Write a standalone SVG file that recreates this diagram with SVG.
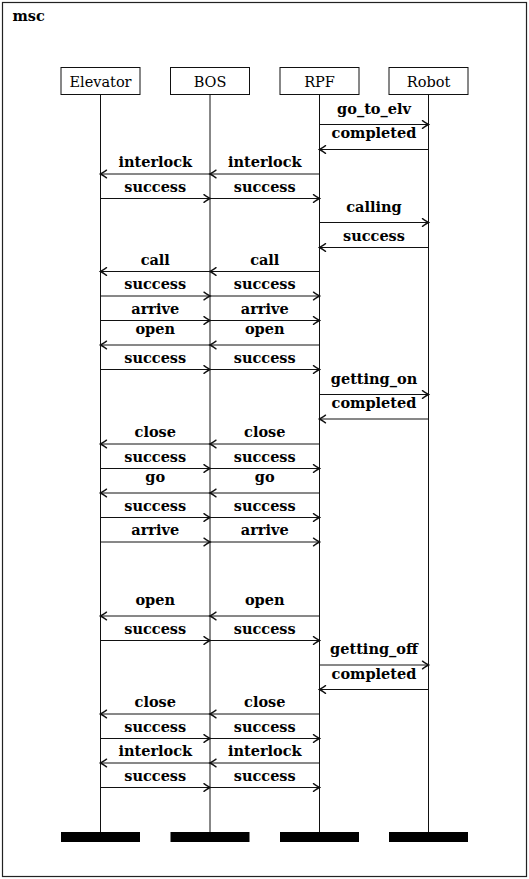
<svg xmlns="http://www.w3.org/2000/svg" width="529" height="879" viewBox="0 0 529 879">
<style>
.frame{fill:#fff;stroke:#222;stroke-width:1.2}
.head{fill:#fff;stroke:#111;stroke-width:1}
.hl{font-family:"DejaVu Serif",serif;font-size:14.5px;fill:#000;text-anchor:middle}
.life{stroke:#111;stroke-width:1}
.bar{fill:#000}
.msg{stroke:#111;stroke-width:1;fill:none;marker-end:url(#arr)}
.lbl{font-family:"DejaVu Serif",serif;font-weight:bold;font-size:14.5px;fill:#000;text-anchor:middle}
.title{font-family:"DejaVu Serif",serif;font-weight:bold;font-size:14.5px;fill:#000}
</style>
<defs>
<marker id="arr" markerUnits="userSpaceOnUse" markerWidth="12" markerHeight="10" viewBox="-7 -5 8 10" refX="0" refY="0" orient="auto">
<path d="M-6,-3.8 Q-1.5,-0.7 0,0 Q-1.5,0.7 -6,3.8" fill="none" stroke="#111" stroke-width="1.4" stroke-linecap="round"/>
</marker>
</defs>
<rect class="frame" x="2.5" y="2.5" width="524" height="874"/>
<text class="title" x="12.5" y="20.5">msc</text>

<g id="elevator">
<rect class="head" x="61" y="67.5" width="79" height="27"/>
<text class="hl" x="100.5" y="86.5">Elevator</text>
<line class="life" x1="100.5" y1="94.5" x2="100.5" y2="832"/>
<rect class="bar" x="61" y="832" width="79" height="10"/>
</g>
<g id="bos">
<rect class="head" x="170.5" y="67.5" width="79" height="27"/>
<text class="hl" x="210" y="86.5">BOS</text>
<line class="life" x1="210" y1="94.5" x2="210" y2="832"/>
<rect class="bar" x="170.5" y="832" width="79" height="10"/>
</g>
<g id="rpf">
<rect class="head" x="280" y="67.5" width="79" height="27"/>
<text class="hl" x="319.5" y="86.5">RPF</text>
<line class="life" x1="319.5" y1="94.5" x2="319.5" y2="832"/>
<rect class="bar" x="280" y="832" width="79" height="10"/>
</g>
<g id="robot">
<rect class="head" x="389" y="67.5" width="79" height="27"/>
<text class="hl" x="428.5" y="86.5">Robot</text>
<line class="life" x1="428.5" y1="94.5" x2="428.5" y2="832"/>
<rect class="bar" x="389" y="832" width="79" height="10"/>
</g>

<g id="connectors">
<line class="msg" x1="319.5" y1="124.5" x2="428.5" y2="124.5"/>
<text class="lbl" x="374" y="113.5">go_to_elv</text>
<line class="msg" x1="428.5" y1="149.5" x2="319.5" y2="149.5"/>
<text class="lbl" x="374" y="138">completed</text>
<line class="msg" x1="319.5" y1="174" x2="210" y2="174"/>
<line class="msg" x1="210" y1="174" x2="100.5" y2="174"/>
<text class="lbl" x="264.75" y="166.5">interlock</text>
<text class="lbl" x="155.25" y="166.5">interlock</text>
<line class="msg" x1="100.5" y1="198.5" x2="210" y2="198.5"/>
<line class="msg" x1="210" y1="198.5" x2="319.5" y2="198.5"/>
<text class="lbl" x="155.25" y="191.5">success</text>
<text class="lbl" x="264.75" y="191.5">success</text>
<line class="msg" x1="319.5" y1="222.5" x2="428.5" y2="222.5"/>
<text class="lbl" x="374" y="212">calling</text>
<line class="msg" x1="428.5" y1="247.5" x2="319.5" y2="247.5"/>
<text class="lbl" x="374" y="240.5">success</text>
<line class="msg" x1="319.5" y1="271.5" x2="210" y2="271.5"/>
<line class="msg" x1="210" y1="271.5" x2="100.5" y2="271.5"/>
<text class="lbl" x="264.75" y="264.5">call</text>
<text class="lbl" x="155.25" y="264.5">call</text>
<line class="msg" x1="100.5" y1="296" x2="210" y2="296"/>
<line class="msg" x1="210" y1="296" x2="319.5" y2="296"/>
<text class="lbl" x="155.25" y="289">success</text>
<text class="lbl" x="264.75" y="289">success</text>
<line class="msg" x1="100.5" y1="320.5" x2="210" y2="320.5"/>
<line class="msg" x1="210" y1="320.5" x2="319.5" y2="320.5"/>
<text class="lbl" x="155.25" y="313.5">arrive</text>
<text class="lbl" x="264.75" y="313.5">arrive</text>
<line class="msg" x1="319.5" y1="345" x2="210" y2="345"/>
<line class="msg" x1="210" y1="345" x2="100.5" y2="345"/>
<text class="lbl" x="264.75" y="334">open</text>
<text class="lbl" x="155.25" y="334">open</text>
<line class="msg" x1="100.5" y1="369.5" x2="210" y2="369.5"/>
<line class="msg" x1="210" y1="369.5" x2="319.5" y2="369.5"/>
<text class="lbl" x="155.25" y="362.5">success</text>
<text class="lbl" x="264.75" y="362.5">success</text>
<line class="msg" x1="319.5" y1="394.5" x2="428.5" y2="394.5"/>
<text class="lbl" x="374" y="383.5">getting_on</text>
<line class="msg" x1="428.5" y1="419" x2="319.5" y2="419"/>
<text class="lbl" x="374" y="408">completed</text>
<line class="msg" x1="319.5" y1="444" x2="210" y2="444"/>
<line class="msg" x1="210" y1="444" x2="100.5" y2="444"/>
<text class="lbl" x="264.75" y="437">close</text>
<text class="lbl" x="155.25" y="437">close</text>
<line class="msg" x1="100.5" y1="468.5" x2="210" y2="468.5"/>
<line class="msg" x1="210" y1="468.5" x2="319.5" y2="468.5"/>
<text class="lbl" x="155.25" y="461.5">success</text>
<text class="lbl" x="264.75" y="461.5">success</text>
<line class="msg" x1="319.5" y1="493" x2="210" y2="493"/>
<line class="msg" x1="210" y1="493" x2="100.5" y2="493"/>
<text class="lbl" x="264.75" y="482">go</text>
<text class="lbl" x="155.25" y="482">go</text>
<line class="msg" x1="100.5" y1="517.5" x2="210" y2="517.5"/>
<line class="msg" x1="210" y1="517.5" x2="319.5" y2="517.5"/>
<text class="lbl" x="155.25" y="510.5">success</text>
<text class="lbl" x="264.75" y="510.5">success</text>
<line class="msg" x1="100.5" y1="542" x2="210" y2="542"/>
<line class="msg" x1="210" y1="542" x2="319.5" y2="542"/>
<text class="lbl" x="155.25" y="535">arrive</text>
<text class="lbl" x="264.75" y="535">arrive</text>
<line class="msg" x1="319.5" y1="616" x2="210" y2="616"/>
<line class="msg" x1="210" y1="616" x2="100.5" y2="616"/>
<text class="lbl" x="264.75" y="605">open</text>
<text class="lbl" x="155.25" y="605">open</text>
<line class="msg" x1="100.5" y1="640.5" x2="210" y2="640.5"/>
<line class="msg" x1="210" y1="640.5" x2="319.5" y2="640.5"/>
<text class="lbl" x="155.25" y="633.5">success</text>
<text class="lbl" x="264.75" y="633.5">success</text>
<line class="msg" x1="319.5" y1="665" x2="428.5" y2="665"/>
<text class="lbl" x="374" y="654">getting_off</text>
<line class="msg" x1="428.5" y1="689.5" x2="319.5" y2="689.5"/>
<text class="lbl" x="374" y="678.5">completed</text>
<line class="msg" x1="319.5" y1="714" x2="210" y2="714"/>
<line class="msg" x1="210" y1="714" x2="100.5" y2="714"/>
<text class="lbl" x="264.75" y="707">close</text>
<text class="lbl" x="155.25" y="707">close</text>
<line class="msg" x1="100.5" y1="738.5" x2="210" y2="738.5"/>
<line class="msg" x1="210" y1="738.5" x2="319.5" y2="738.5"/>
<text class="lbl" x="155.25" y="731.5">success</text>
<text class="lbl" x="264.75" y="731.5">success</text>
<line class="msg" x1="319.5" y1="763" x2="210" y2="763"/>
<line class="msg" x1="210" y1="763" x2="100.5" y2="763"/>
<text class="lbl" x="264.75" y="756">interlock</text>
<text class="lbl" x="155.25" y="756">interlock</text>
<line class="msg" x1="100.5" y1="787.5" x2="210" y2="787.5"/>
<line class="msg" x1="210" y1="787.5" x2="319.5" y2="787.5"/>
<text class="lbl" x="155.25" y="780.5">success</text>
<text class="lbl" x="264.75" y="780.5">success</text>
</g>
</svg>
